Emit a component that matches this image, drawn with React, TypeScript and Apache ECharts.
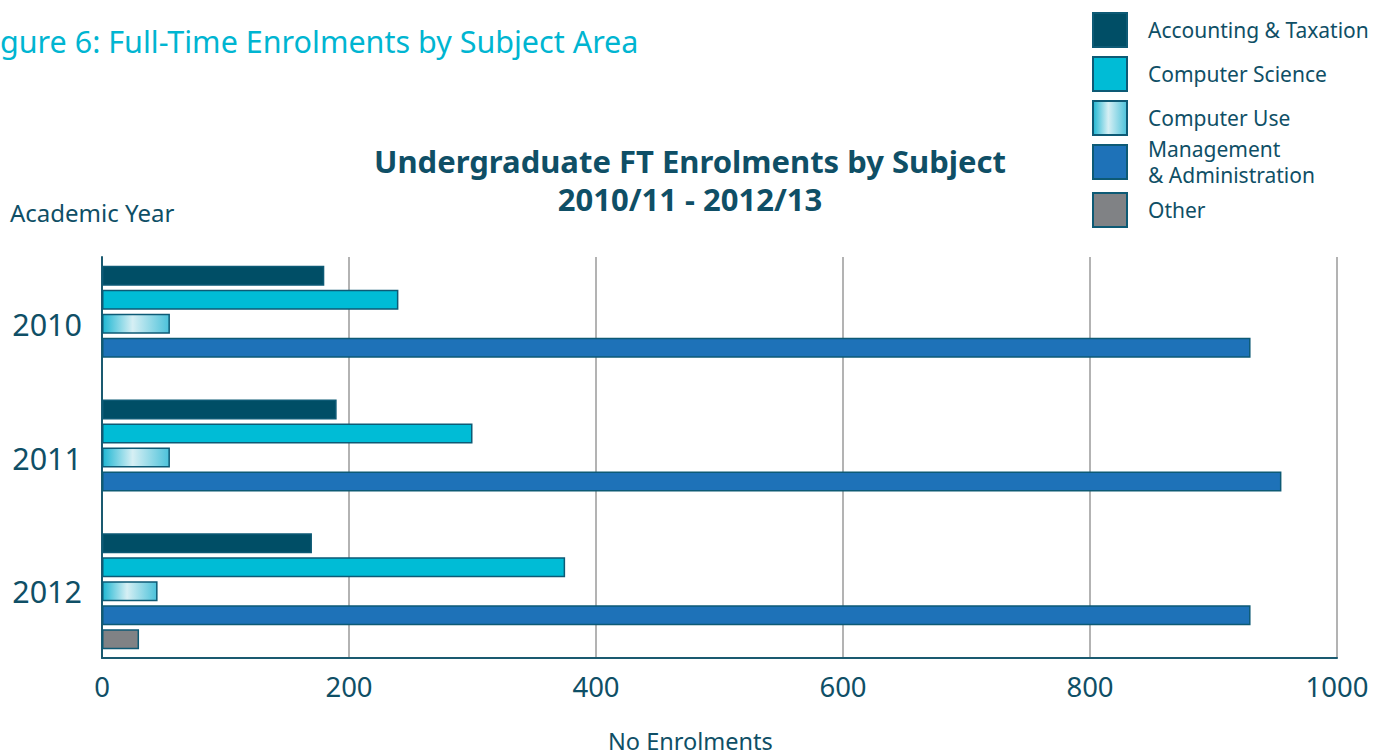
import React, { useEffect, useRef } from "react";
import * as echarts from "echarts";

const years = ["2010", "2011", "2012"];
const xTicks = [0, 200, 400, 600, 800, 1000];
const accounting = [180, 190, 170];
const computerScience = [240, 300, 375];
const computerUse = [55, 55, 45];
const management = [930, 955, 930];
const other: (number | null)[] = [null, null, 30];

const seriesNames = [
  "Accounting & Taxation",
  "Computer Science",
  "Computer Use",
  "Management\n& Administration",
  "Other",
];

const TEXT = "#0f4f66";
const BORDER = "#0d5a75";
const FONT = "'Noto Sans', 'Open Sans', sans-serif";

export default function App() {
  const ref = useRef<HTMLDivElement>(null);
  useEffect(() => {
    if (!ref.current) return;
    const chart = echarts.init(ref.current, undefined, { renderer: "svg" });
    const cuGradient = new echarts.graphic.LinearGradient(0, 0, 1, 0, [
      { offset: 0, color: "#1fb7d3" },
      { offset: 0.45, color: "#d6eff4" },
      { offset: 1, color: "#4cc2da" },
    ]);
    const values = [accounting, computerScience, computerUse, management, other];
    const colors: any[] = ["#004e66", "#00bcd6", cuGradient, "#1e72b8", "#808285"];
    const legendCommon = (lh: number) => ({
      orient: "vertical" as const,
      left: 1092,
      padding: 0,
      itemWidth: 34,
      itemHeight: 34,
      itemGap: 8,
      icon: "rect",
      selectedMode: false,
      textStyle: {
        fontFamily: FONT,
        fontSize: 21,
        color: TEXT,
        lineHeight: lh,
        padding: [0, 0, 0, 16],
      },
    });
    const titleStyle = {
      fontFamily: FONT,
      fontSize: 31,
      fontWeight: "bold" as const,
      color: "#0f4f66",
      lineHeight: 36,
    };
    chart.setOption({
      animation: false,
      textStyle: { fontFamily: FONT },
      title: [
        {
          text: "Undergraduate FT Enrolments by Subject",
          left: 690,
          top: 143,
          padding: 0,
          textAlign: "center",
          textStyle: titleStyle,
        },
        {
          text: "2010/11 - 2012/13",
          left: 690,
          top: 181,
          padding: 0,
          textAlign: "center",
          textStyle: titleStyle,
        },
      ],
      graphic: [
        {
          type: "text",
          left: 0,
          top: 25,
          style: {
            text: "gure 6: Full-Time Enrolments by Subject Area",
            font: `30.5px ${FONT}`,
            fill: "#00b5d1",
          },
        },
        {
          type: "text",
          left: 10,
          top: 200,
          style: { text: "Academic Year", font: `24px ${FONT}`, fill: TEXT },
        },
        {
          type: "text",
          left: 608,
          top: 729,
          style: { text: "No Enrolments", font: `23.5px ${FONT}`, fill: TEXT },
        },
      ],
      legend: [
        { ...legendCommon(20), top: 12, data: seriesNames.slice(0, 3) },
        { ...legendCommon(26), top: 136, data: [seriesNames[3]] },
        { ...legendCommon(20), top: 192, data: [seriesNames[4]] },
      ],
      grid: { left: 102, right: 57, top: 257, bottom: 98, containLabel: false },
      xAxis: {
        type: "value",
        min: 0,
        max: 1000,
        interval: 200,
        axisLine: { show: true, lineStyle: { color: "#1a5a70", width: 2 } },
        axisTick: { show: false },
        splitLine: { show: true, lineStyle: { color: "#b3b3b3", width: 2 } },
        axisLabel: {
          fontFamily: FONT,
          fontSize: 27.5,
          color: TEXT,
          margin: 14,
          formatter: (v: number) => (xTicks.includes(v) ? String(v) : ""),
        },
      },
      yAxis: {
        type: "category",
        data: years,
        inverse: true,
        axisLine: { show: true, lineStyle: { color: "#1a5a70", width: 2 } },
        axisTick: { show: false },
        splitLine: { show: false },
        axisLabel: { fontFamily: FONT, fontSize: 30.5, color: TEXT, margin: 20 },
      },
      series: seriesNames.map((name, i) => ({
        name,
        type: "bar",
        data: values[i],
        barWidth: 20,
        barGap: "20%",
        itemStyle: { color: colors[i], borderColor: BORDER, borderWidth: 1.5 },
      })),
    });
    return () => chart.dispose();
  }, []);
  return (
    <div
      ref={ref}
      style={{ position: "fixed", left: 0, top: 0, width: 1394, height: 756, background: "#fff" }}
    />
  );
}
